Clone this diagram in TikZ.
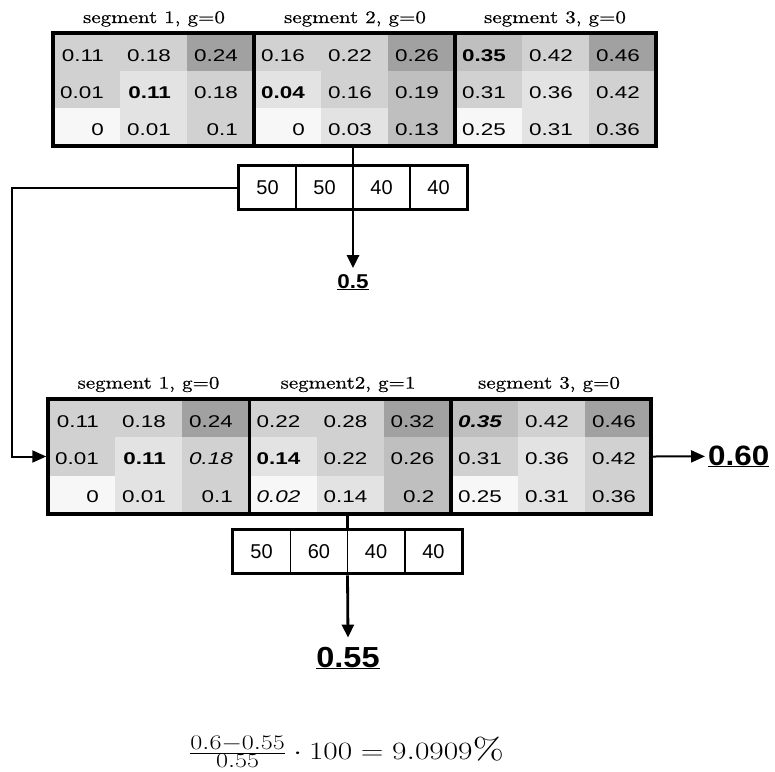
\documentclass[tikz,border=0pt]{standalone}
\usepackage{fontspec}
\usepackage{graphicx}
\usetikzlibrary{arrows.meta,fit}
\setmainfont{lmroman10-regular.otf}
\newfontfamily\cellfont{Liberation Sans}[FakeStretch=1.32]
\newfontfamily\lblfont{Liberation Sans}[FakeStretch=1.12]
\newfontfamily\vecfont{Liberation Sans}
\newfontfamily\titlefont{lmroman10-regular.otf}[FakeStretch=1.2,FakeBold=0.6]
\definecolor{c0}{gray}{0.97}
\definecolor{c1}{gray}{0.89}
\definecolor{c2}{gray}{0.82}
\definecolor{c3}{gray}{0.75}
\definecolor{c4}{gray}{0.63}
\tikzset{
  celltxt/.style={anchor=base east,inner sep=0pt,font=\cellfont\fontsize{17}{20}\selectfont},
  segtitle/.style={anchor=base,inner sep=0pt,font=\titlefont\fontsize{17.5}{20}\selectfont},
  tbl/.style={draw,line width=3.5pt,inner sep=0pt},
  segline/.style={line width=3.5pt},
  vcell/.style={draw,line width=1.2pt,minimum width=57pt,minimum height=43pt,inner sep=0pt,font=\vecfont\fontsize{20}{23}\selectfont},
  vbox/.style={draw,line width=3.5pt,inner sep=0pt},
  conn/.style={line width=2pt},
  arr/.style={line width=2.8pt,-{Triangle[length=13pt,width=12pt]}},
  thinarr/.style={line width=2pt,-{Triangle[length=14pt,width=12pt]}},
  lbl/.style={inner xsep=3pt}
}
\newcommand\segcells[5]{%
  \foreach \fc/\tx [count=\k from 0] in {#5} {
    \pgfmathtruncatemacro\rr{int(\k/3)}
    \pgfmathtruncatemacro\cc{mod(\k,3)}
    \fill[\fc] ({#2+\cc*67},{#3+\rr*#4}) rectangle ++(67,#4);
    \node[celltxt] (#1\k) at ({#2+51+\cc*67},{#3+28.5+\rr*(#4-0.9)}) {\tx};
  }}
\begin{document}
\begin{tikzpicture}[x=1pt,y=-1pt]
\useasboundingbox (0,0) rectangle (775,771);
% ---------- top table ----------
\segcells{ta}{53}{33}{37.7}{c2/0.11, c2/0.18, c4/0.24, c2/0.01, c1/{\bfseries 0.11}, c2/0.18, c0/0, c1/0.01, c2/0.1}
\segcells{tb}{254}{33}{37.7}{c2/0.16, c2/0.22, c4/0.26, c1/{\bfseries 0.04}, c2/0.16, c3/0.19, c0/0, c1/0.03, c3/0.13}
\segcells{tc}{455}{33}{37.7}{c3/{\bfseries 0.35}, c2/0.42, c4/0.46, c2/0.31, c1/0.36, c2/0.42, c0/0.25, c1/0.31, c2/0.36}
\node[tbl,minimum width=603pt,minimum height=113pt] (T1) at (354.5,89.5) {};
\draw[segline] (254,33) -- (254,146);
\draw[segline] (455,33) -- (455,146);
\node[segtitle] (h1) at (154,23) {segment 1, g=0};
\node[segtitle] (h2) at (355,23) {segment 2, g=0};
\node[segtitle] (h3) at (555,23) {segment 3, g=0};
% top vector
\node[vcell] (a1) at (267.5,187.5) {50};
\node[vcell] (a2) at (324.5,187.5) {50};
\node[vcell] (a3) at (381.5,187.5) {40};
\node[vcell] (a4) at (438.5,187.5) {40};
\node[vbox,fit=(a1)(a4)] (V1) {};
\node[lbl,inner ysep=5.7pt,anchor=base,font=\lblfont\bfseries\fontsize{20}{24}\selectfont] (L1) at (353,288) {\underline{0.5}};
% ---------- bottom table ----------
\segcells{ba}{48}{399}{38.3}{c2/0.11, c2/0.18, c4/0.24, c2/0.01, c1/{\bfseries 0.11}, c2/{\itshape 0.18}, c0/0, c1/0.01, c2/0.1}
\segcells{bb}{249.5}{399}{38.3}{c2/0.22, c2/0.28, c4/0.32, c1/{\bfseries 0.14}, c2/0.22, c3/0.26, c0/{\itshape 0.02}, c1/0.14, c3/0.2}
\segcells{bc}{451}{399}{38.3}{c3/{\bfseries\itshape 0.35}, c2/0.42, c4/0.46, c2/0.31, c1/0.36, c2/0.42, c0/0.25, c1/0.31, c2/0.36}
\node[tbl,minimum width=603pt,minimum height=115pt] (T2) at (349.5,456.5) {};
\draw[segline] (249.5,399) -- (249.5,514);
\draw[segline] (451,399) -- (451,514);
\node[segtitle] (g1) at (148.5,388.5) {segment 1, g=0};
\node[segtitle] (g2) at (348,388.5) {segment2, g=1};
\node[segtitle] (g3) at (549,388.5) {segment 3, g=0};
% bottom vector
\node[vcell] (b1) at (261.6,551.5) {50};
\node[vcell] (b2) at (318.9,551.5) {60};
\node[vcell] (b3) at (376.1,551.5) {40};
\node[vcell] (b4) at (433.4,551.5) {40};
\node[vbox,fit=(b1)(b4)] (V2) {};
\node[lbl,inner ysep=9pt,anchor=base,font=\lblfont\bfseries\fontsize{29}{34}\selectfont] (L2) at (348,667) {\underline{0.55}};
\node[lbl,inner xsep=3pt,anchor=base west,font=\lblfont\bfseries\fontsize{28}{33}\selectfont] (L3) at (705,465) {\underline{0.60}};
% ---------- connectors ----------
\draw[conn,line width=2.8pt] (T1.south -| V1.north) -- (V1.north);
\draw[arr] (V1.south) -- (L1.north);
\draw[thinarr] (V1.west) -- ++(-225,0) |- (T2.west);
\draw[thinarr] (T2.east) -- (L3.west);
\draw[conn,line width=2.8pt] (T2.south -| V2.north) -- (V2.north);
\draw[arr] (V2.south) -- (L2.north);
% ---------- formula ----------
\node[anchor=base,inner sep=0pt] (F) at (346.5,759) {\fontsize{30}{36}\selectfont\scalebox{1.26}[1]{$\frac{0.6-0.55}{0.55}\cdot 100 = 9.0909\%$}};
\end{tikzpicture}
\end{document}
